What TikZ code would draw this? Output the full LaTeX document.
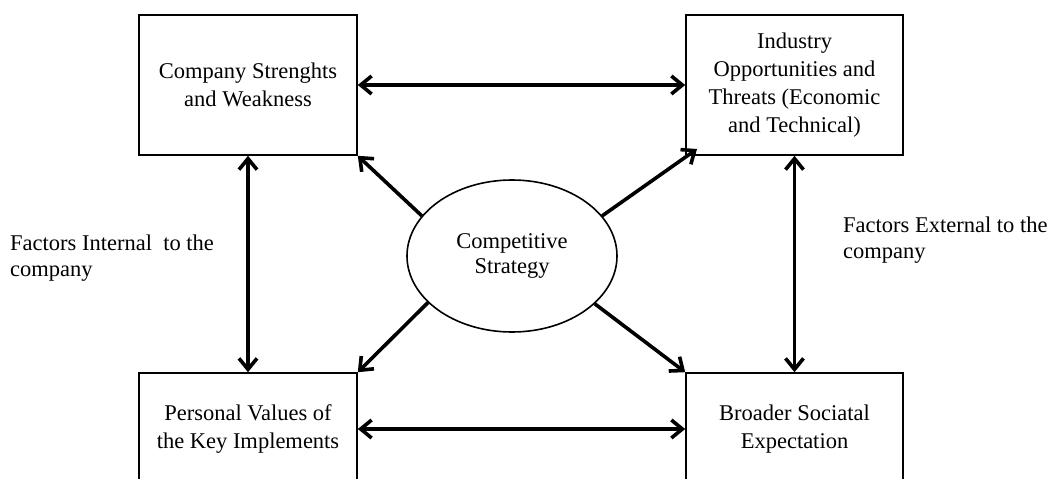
\documentclass[tikz,border=0pt]{standalone}
\usepackage{fontspec}
\setmainfont{Liberation Serif}
\usetikzlibrary{arrows.meta,shapes.geometric}
\begin{document}
\begin{tikzpicture}[x=1pt,y=-1pt,
  box/.style={draw,line width=1.6pt,align=center,inner sep=0pt,font=\fontsize{22.5}{28}\selectfont},
  oval/.style={ellipse,draw,line width=1.6pt,inner sep=0pt,minimum width=210pt,minimum height=152pt,align=center,font=\fontsize{22.5}{25}\selectfont},
  lbl/.style={align=left,inner sep=0pt,anchor=north west,font=\fontsize{22.5}{26}\selectfont},
  barb/.tip={Straight Barb[length=11pt,width=18pt]},
  link/.style={line width=3.6pt,-barb},
  both/.style={line width=3.6pt,barb-barb}
]
\useasboundingbox (0,0) rectangle (1053,479);
\node[box,minimum width=218pt,minimum height=140pt] (tl) at (248,85) {Company Strenghts\\and Weakness};
\node[box,minimum width=217pt,minimum height=140pt] (tr) at (794.5,85) {Industry\\Opportunities and\\Threats (Economic\\and Technical)};
\node[box,minimum width=218pt,minimum height=112pt] (bl) at (248,429) {Personal Values of\\the Key Implements};
\node[box,minimum width=217pt,minimum height=112pt] (br) at (794.5,429) {Broader Sociatal\\Expectation};
\node[oval] (cs) at (512,256) {Competitive\\Strategy};
\node[lbl] (li) at (10,235) {Factors Internal~ to the\\company};
\node[lbl] (le) at (843,217) {Factors External to the\\company};
\coordinate (ne) at (697,149);
\draw[both] (tl.east) -- (tr.west);
\draw[both] (bl.east) -- (br.west);
\draw[both] (tl.south) -- (bl.north);
\draw[both] (tr.south) -- (br.north);
\draw[link] (cs.156) -- (tl.south east);
\draw[link] (cs.24) -- (ne);
\draw[link] (cs.209) -- (bl.north east);
\draw[link] (cs.330) -- (br.north west);
\end{tikzpicture}
\end{document}
